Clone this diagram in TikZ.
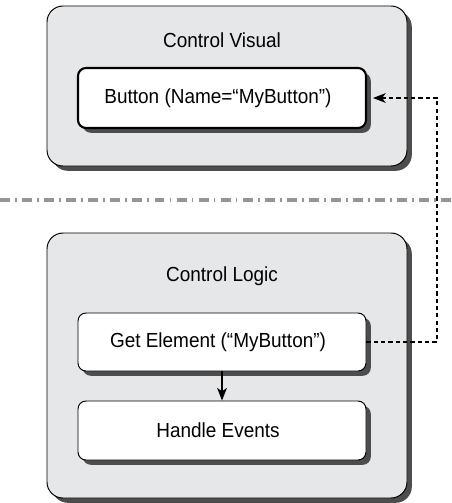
\documentclass[tikz,border=0pt]{standalone}
\usepackage{fontspec}
\setmainfont{Liberation Sans}[FakeStretch=0.93]
\usepackage{xcolor}
\usepackage{tikz}
\usetikzlibrary{arrows.meta,positioning,calc,shadows}
\definecolor{panelgray}{HTML}{E6E7E8}
\definecolor{shadegray}{HTML}{4D4D4D}
\definecolor{sepgray}{HTML}{959595}
\tikzset{
  % Outer panels
  panel/.style={draw=black,line width=0.7pt,fill=panelgray,rounded corners=0.4cm,
                minimum width=9cm,
                drop shadow={shadow xshift=0.12cm,shadow yshift=-0.12cm,
                             fill=shadegray,opacity=1}},
  % Inner steps
  stepbox/.style={draw=black,line width=0.7pt,fill=white,rounded corners=0.2cm,
                  minimum width=7.2cm,minimum height=1.45cm,align=center,
                  font=\fontsize{14.5}{17}\selectfont,
                  drop shadow={shadow xshift=0.12cm,shadow yshift=-0.12cm,
                               fill=shadegray,opacity=1}},
  stepthick/.style={stepbox,line width=1.5pt,minimum height=1.5cm},
  title/.style={font=\fontsize{14.5}{17}\selectfont,inner sep=0pt},
  % Connectors
  arr/.style={-{Stealth[length=9pt,width=7pt,inset=2.5pt]},black,line width=0.8pt},
  dconn/.style={arr,dash pattern=on 3pt off 2.2pt},
  sepline/.style={sepgray,line width=2.4pt,
                  dash pattern=on 7.1pt off 3.6pt on 1.2pt off 3.8pt}
}
\begin{document}
\begin{tikzpicture}
  \useasboundingbox (0,0) rectangle (11.275,-12.575);

  % Panels
  \node[panel,minimum height=4cm]     (visual) at (5.675,-2.15)   {};
  \node[panel,minimum height=6.625cm] (logic)  at (5.675,-9.1375) {};
  \node[title] (tvisual) at (5.55,-1.0)  {Control Visual};
  \node[title] (tlogic)  at (5.55,-6.9)  {Control Logic};

  % Steps
  \node[stepthick] (btn)    at (5.55,-2.45)    {Button (Name=“MyButton”)\hspace{0.2cm}};
  \node[stepbox]   (getel)  at (5.55,-8.55)    {Get Element (“MyButton”)\hspace{0.2cm}};
  \node[stepbox,minimum height=1.475cm] (handle) at (5.55,-10.7625) {Handle Events\hspace{0.2cm}};

  % Separator
  \coordinate (sepL) at (0,-5.0);
  \coordinate (sepR) at (11.275,-5.0);
  \draw[sepline] (sepL) -- (sepR);

  % Connectors
  \coordinate (bend) at (10.925,0);
  \draw[arr] (getel.south) -- (handle.north);
  \draw[dconn,shorten >=0.15cm] (getel.east) -- (getel.east -| bend)
    -- (btn.east -| bend) -- (btn.east);
\end{tikzpicture}
\end{document}
